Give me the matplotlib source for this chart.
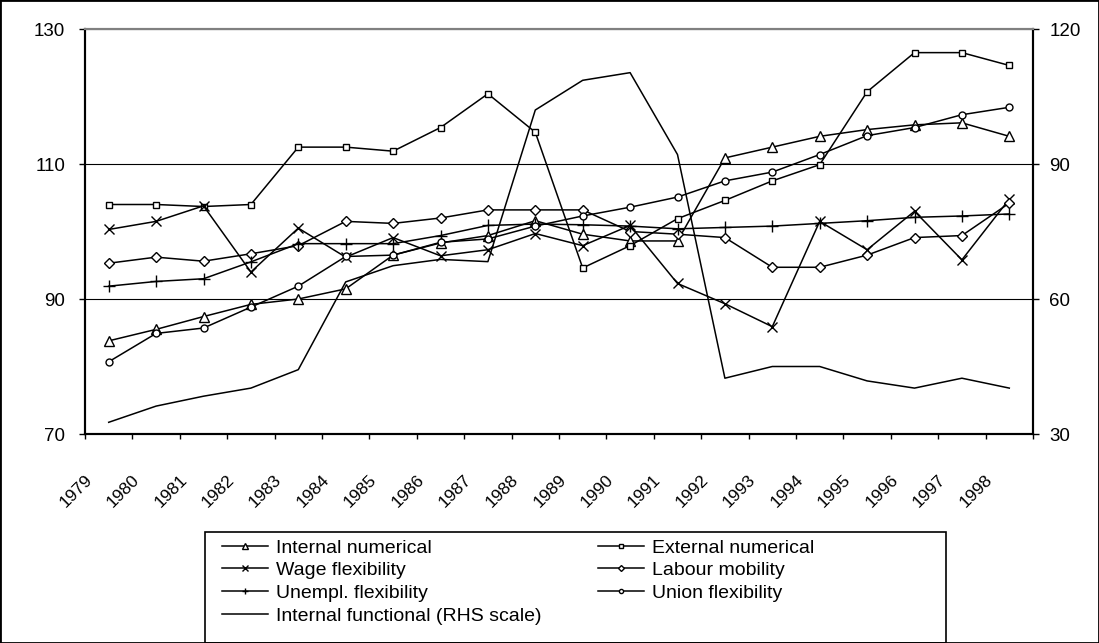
import numpy as np
import matplotlib
matplotlib.use("Agg")
import matplotlib.pyplot as plt
import matplotlib.transforms as mtransforms
from matplotlib.patches import Rectangle

plt.rcParams['font.family'] = ['Liberation Sans', 'DejaVu Sans']

# ani (categorii pe axa x)
years = [str(y) for y in range(1979, 1999)]

# serii pe axa din stanga
internal_numerical = [83.8, 85.5, 87.4, 89.2, 90.0, 91.5, 96.5, 98.3, 99.4, 101.6,
                      99.6, 98.6, 98.6, 110.9, 112.5, 114.1, 115.1, 115.8, 116.1, 114.1]
external_numerical = [104.0, 104.0, 103.7, 104.0, 112.5, 112.5, 111.9, 115.4, 120.4, 114.7,
                      94.6, 97.9, 101.9, 104.6, 107.5, 109.9, 120.7, 126.5, 126.5, 124.6]
wage_flexibility = [100.3, 101.5, 103.8, 94.0, 100.5, 96.2, 99.1, 96.4, 97.3, 99.7,
                    97.9, 100.9, 92.3, 89.3, 85.9, 101.5, 97.3, 103.0, 95.8, 104.8]
labour_mobility = [95.3, 96.2, 95.6, 96.7, 97.9, 101.5, 101.2, 102.0, 103.2, 103.2,
                   103.2, 100.0, 99.6, 99.1, 94.7, 94.7, 96.5, 99.1, 99.4, 104.2]
unempl_flexibility = [91.9, 92.6, 93.0, 95.5, 98.2, 98.2, 98.2, 99.4, 100.9, 101.1,
                      101.0, 100.8, 100.4, 100.6, 100.8, 101.2, 101.6, 102.1, 102.3, 102.6]
union_flexibility = [80.7, 84.9, 85.7, 88.8, 91.9, 96.3, 96.5, 98.4, 98.9, 100.8,
                     102.3, 103.6, 105.1, 107.5, 108.8, 111.4, 114.2, 115.4, 117.3, 118.4]

# serie pe axa din dreapta
internal_functional = [32.6, 36.2, 38.4, 40.2, 44.3, 63.8, 67.4, 68.8, 68.3, 102.0,
                       108.6, 110.3, 92.1, 42.4, 45.0, 45.0, 41.8, 40.2, 42.4, 40.2]

W, H = 1099, 643
fig = plt.figure(figsize=(W / 100, H / 100), dpi=100)
ax = fig.add_axes([85 / W, 1 - 434 / H, 948 / W, 405 / H])
ax2 = ax.twinx()

x = np.arange(len(years))
lw = 1.1
common = dict(color='black', lw=lw, markerfacecolor='white', markeredgecolor='black',
              markeredgewidth=1.0)

l_in, = ax.plot(x, internal_numerical, marker='^', ms=6.5, label='Internal numerical', **common)
l_ex, = ax.plot(x, external_numerical, marker='s', ms=5, label='External numerical', **common)
l_wa, = ax.plot(x, wage_flexibility, marker='x', ms=7, label='Wage flexibility', **common)
l_la, = ax.plot(x, labour_mobility, marker='D', ms=5, label='Labour mobility', **common)
l_un, = ax.plot(x, unempl_flexibility, marker='+', ms=8, label='Unempl. flexibility', **common)
l_uf, = ax.plot(x, union_flexibility, marker='o', ms=5, label='Union flexibility', **common)
l_fu, = ax2.plot(x, internal_functional, color='black', lw=lw, label='Internal functional (RHS scale)')

# axa stanga
ax.set_ylim(70, 130)
ax.set_yticks([70, 90, 110, 130])
ax.tick_params(axis='y', length=4.3, width=1, pad=10, labelsize=13.5)
ax.grid(axis='y', color='black', lw=0.8)
ax.set_axisbelow(True)

# axa dreapta
ax2.set_ylim(30, 120)
ax2.set_yticks([30, 60, 90, 120])
ax2.tick_params(axis='y', length=4.3, width=1, pad=7.5, labelsize=13.5)

# axa x
ax.set_xlim(-0.5, len(years) - 0.5)
ax.set_xticks(x)
ax.set_xticklabels(years, rotation=45, ha='right', va='center',
                   rotation_mode='anchor', fontsize=12.5)
ax.set_xticks(np.arange(-0.5, len(years), 1), minor=True)
ax.tick_params(axis='x', which='major', length=0, pad=31)
ax.tick_params(axis='x', which='minor', length=3.6, width=1, direction='out')
offset = mtransforms.ScaledTranslation(-19 / 100, 0, fig.dpi_scale_trans)
for lbl in ax.get_xticklabels():
    lbl.set_transform(lbl.get_transform() + offset)

for a in (ax, ax2):
    a.spines['top'].set_color('#808080')
    a.spines['top'].set_linewidth(1.5)
    for s in ('left', 'right', 'bottom'):
        a.spines[s].set_color('black')
        a.spines[s].set_linewidth(1.5)

# legenda (ordinea pe coloane)
handles = [l_in, l_wa, l_un, l_fu, l_ex, l_la, l_uf]
fig.legend(handles=handles, labels=[h.get_label() for h in handles],
           loc='upper left', bbox_to_anchor=(221.7 / W, 1 - 539 / H),
           ncol=2, frameon=False, fontsize=14, borderpad=0, borderaxespad=0,
           handlelength=2.37, handletextpad=0.41, columnspacing=2.9,
           labelspacing=0.26, markerscale=0.6)
fig.patches.append(Rectangle((205 / W, 0), (946 - 205) / W, 1 - 532 / H,
                             transform=fig.transFigure, fill=False,
                             edgecolor='black', lw=1.2))

# chenar exterior
fig.patches.append(Rectangle((0, 0), 1, 1, transform=fig.transFigure, fill=False,
                             edgecolor='black', lw=2))

fig.savefig('out.png', dpi=100)
